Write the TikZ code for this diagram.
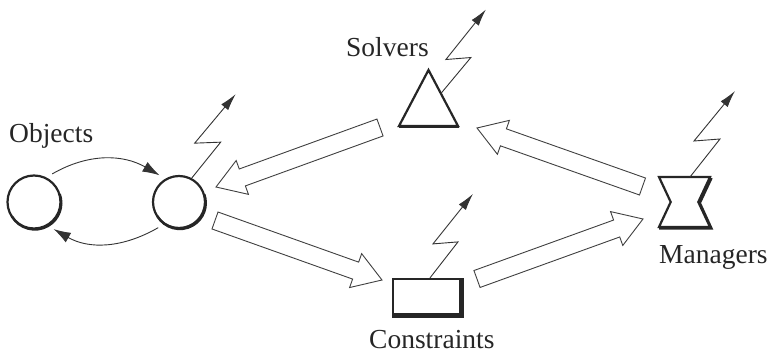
\documentclass[tikz,border=0pt]{standalone}
\usepackage{fontspec}
\setmainfont{Liberation Serif}
\usetikzlibrary{calc,arrows.meta}
\newcommand\hollowarrow[2]{%
  \coordinate (hh) at ($(#2)!28pt!(#1)$);
  \draw[blk] ($(#1)!9pt!-90:(#2)$) -- ($(hh)!9pt!-90:(#2)$) -- ($(hh)!18pt!-90:(#2)$) -- (#2)
     -- ($(hh)!18pt!90:(#2)$) -- ($(hh)!9pt!90:(#2)$) -- ($(#1)!9pt!90:(#2)$) -- cycle;}
\begin{document}
\begin{tikzpicture}[x=1pt,y=1pt,
  ink/.style={draw=black!85, line width=2.2pt},
  shadowline/.style={draw=black!85, line width=2.4pt},
  blk/.style={draw=black!75, line width=0.9pt, fill=white, line join=miter},
  zig/.style={draw=black!80, line width=0.9pt, -{Latex[length=17pt,width=9pt]}},
  curv/.style={draw=black!80, line width=0.9pt, -{Latex[length=17pt,width=11pt]}},
  lbl/.style={font=\fontsize{27.5}{32}\selectfont, text=black!85, inner sep=0pt},
  box/.style={inner sep=0pt, outer sep=0pt}]
\useasboundingbox (0,0) rectangle (772,354);

% objects
\node[circle, ink, minimum size=53pt, inner sep=0pt, outer sep=7pt] (o1) at (34,152) {};
\node[circle, ink, minimum size=52pt, inner sep=0pt, outer sep=7pt] (o2) at (179,152) {};
\draw[shadowline] ([shift={(0.8,-1)}]o1.center) ++(-150:26.5) arc[start angle=-150,end angle=20,radius=26.5];
\draw[shadowline] ([shift={(0.8,-1)}]o2.center) ++(-150:26) arc[start angle=-150,end angle=20,radius=26];

% solvers
\node[box, minimum width=59pt, minimum height=56pt] (sol) at (428.5,256) {};
\draw[ink, line join=miter] (sol.south west) -- (sol.north) -- (sol.south east) -- cycle;
\draw[shadowline] ([shift={(0,-1.2)}]sol.south west) -- ([shift={(1,-1.2)}]sol.south east);

% constraints
\node[draw=black!85, line width=2.2pt, minimum width=67pt, minimum height=35pt, inner sep=0pt] (con) at (426.5,57.5) {};
\draw[shadowline] ([shift={(0,-1.5)}]con.south west) -- ([shift={(1.5,-1.5)}]con.south east) -- ([shift={(1.5,0)}]con.north east);

% managers
\node[box, minimum width=51pt, minimum height=50pt] (mgr) at (684.5,152) {};
\draw[ink, line join=miter] (mgr.north west) -- (mgr.north east) -- ($(mgr.center)+(13.8,0)$) -- (mgr.south east)
  -- (mgr.south west) -- ($(mgr.center)+(-13.8,0)$) -- cycle;
\draw[shadowline] ([shift={(1.5,-1)}]mgr.north east) -- ($(mgr.center)+(15.3,-1)$) -- ([shift={(1.5,-1.5)}]mgr.south east) -- ([shift={(0,-1.5)}]mgr.south west);

% labels
\node[lbl, anchor=base west] (lobj) at (9,211) {Objects};
\node[lbl, anchor=base west] (lsol) at (346,297) {Solvers};
\node[lbl, anchor=base west, text depth=0pt] (lcon) at (369,6) {Constraints};
\node[lbl, anchor=base west] (lmgr) at (659,91) {Managers};

% curved arrows between objects
\draw[curv] (o1.57) to[out=30,in=150] (o2.126);
\draw[curv] (o2.231) to[out=210,in=-30] (o1.-54);

% zigzags
\draw[zig] ($(o2.center)+(62:27)$) -- ++(29,36) -- ++(-26,-1) -- ++(41,49);
\draw[zig] ($(sol.north)!0.42!(sol.south east)$) -- ++(30,36) -- ++(-25,-2) -- ++(40,50);
\draw[zig] ([xshift=3.5pt]con.north) -- ++(28,36) -- ++(-25,-2) -- ++(40,50);
\draw[zig] ([xshift=5.5pt]mgr.north) -- ++(30,38) -- ++(-26,-2) -- ++(41,50);

% hollow block arrows
\coordinate (a1t) at (380,226.5); \coordinate (a1h) at (216,167);
\coordinate (a2t) at (215,133.5); \coordinate (a2h) at (382,74);
\coordinate (a3t) at (477,75);    \coordinate (a3h) at (643,135);
\coordinate (a4t) at (642.5,167.5); \coordinate (a4h) at (477,226);
\hollowarrow{a1t}{a1h}
\hollowarrow{a2t}{a2h}
\hollowarrow{a3t}{a3h}
\hollowarrow{a4t}{a4h}
\end{tikzpicture}
\end{document}
